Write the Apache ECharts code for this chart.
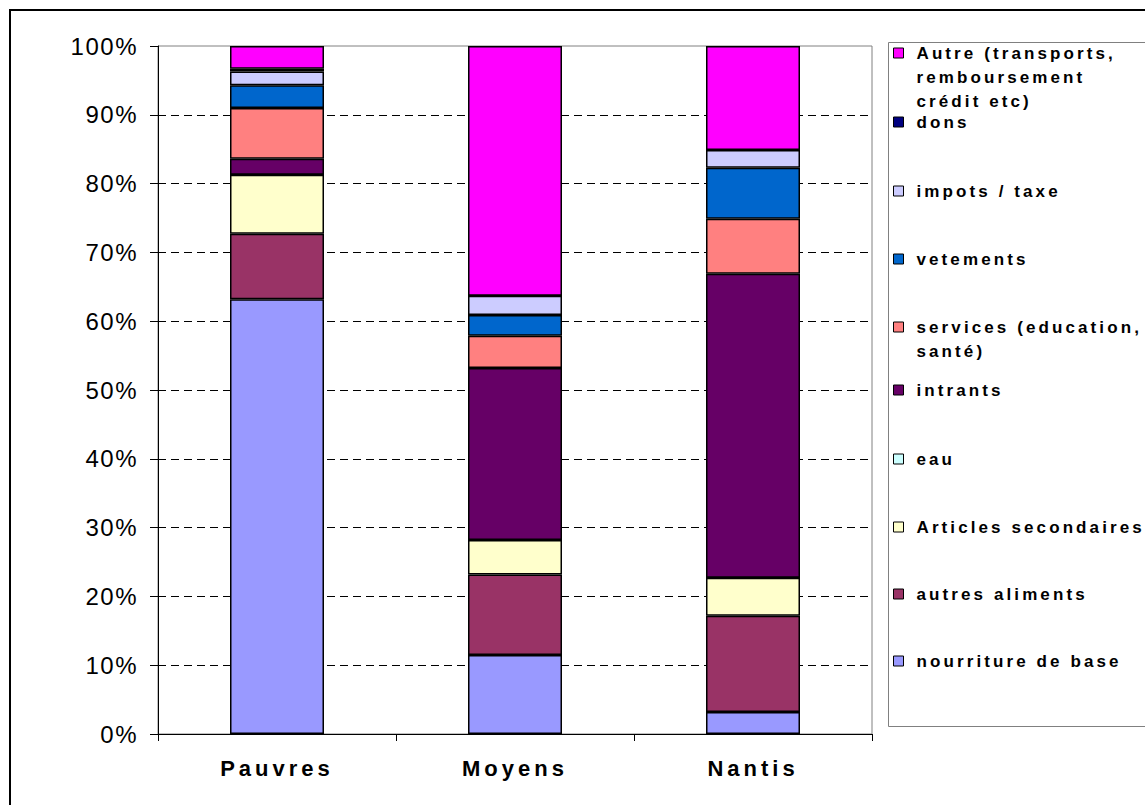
<!DOCTYPE html>
<html>
<head>
<meta charset="utf-8">
<script src="https://cdn.jsdelivr.net/npm/echarts@6/dist/echarts.min.js"></script>
<style>
  html, body { margin: 0; padding: 0; background: #fff; }
  #chart { width: 1145px; height: 805px; }
  /* wide tracking on the legend, category and value texts */
  #chart text[style*="17px"] { letter-spacing: 3.1px; }
  #chart text[style*="22px"] { letter-spacing: 4px; }
  #chart text[style*="24px"] { letter-spacing: 1.5px; }
</style>
</head>
<body>
<div id="chart"></div>
<script>
// Household groups
const categories = ['Pauvres', 'Moyens', 'Nantis'];

// Share of spending (%) per group, bottom segment first
const nourritureDeBase    = [63.2, 11.5, 3.2];
const autresAliments      = [9.5, 11.7, 14.0];
const articlesSecondaires = [8.6, 5.0, 5.5];
const eau                 = [0, 0, 0];
const intrants            = [2.3, 25.0, 44.2];
const services            = [7.4, 4.7, 8.0];
const vetements           = [3.3, 3.0, 7.4];
const impots              = [2.0, 2.8, 2.6];
const dons                = [0.4, 0, 0];
const autre               = [3.3, 36.3, 15.1];

// Series names, as shown in the legend (line breaks for wrapped entries)
const seriesNames = [
  'nourriture de base',
  'autres aliments',
  'Articles secondaires',
  'eau',
  'intrants',
  'services (education,\nsanté)',
  'vetements',
  'impots / taxe',
  'dons',
  'Autre (transports,\nremboursement\ncrédit etc)'
];
const seriesValues = [
  nourritureDeBase, autresAliments, articlesSecondaires, eau, intrants,
  services, vetements, impots, dons, autre
];
const seriesColors = [
  '#9999FF', '#993366', '#FFFFCC', '#CCFFFF', '#660066',
  '#FF8080', '#0066CC', '#CCCCFF', '#000080', '#FF00FF'
];
// Vertical centre of each legend entry's first line
const legendRowY = [661, 594, 527, 459, 390, 327, 259, 191, 122, 53];

const FONT = 'Arial, "Liberation Sans", sans-serif';
const LINE_H = 24;

const chart = echarts.init(document.getElementById('chart'), null, { renderer: 'svg' });

const series = seriesNames.map((name, i) => ({
  name: name,
  type: 'bar',
  stack: 'total',
  barWidth: 94,
  data: seriesValues[i],
  itemStyle: { color: seriesColors[i], borderColor: '#000', borderWidth: 1.5 },
  emphasis: { disabled: true }
}));

// One legend block per entry so each can sit on its own row.
// Wrapped entries get leading blank lines so the first line stays level with the swatch.
const legends = seriesNames.map((name, i) => {
  const lines = name.split('\n').length;
  const lead = '\n'.repeat(lines - 1);
  const boxH = (2 * lines - 1) * LINE_H;
  return {
    data: [name],
    orient: 'vertical',
    left: 893,
    top: legendRowY[i] - boxH / 2,
    padding: 0,
    itemWidth: 10,
    itemHeight: 10,
    icon: 'rect',
    selectedMode: false,
    itemStyle: { borderWidth: 1 },
    formatter: (n) => lead + n,
    textStyle: {
      fontFamily: FONT,
      fontWeight: 'bold',
      fontSize: 17,
      color: '#000',
      lineHeight: LINE_H,
      padding: [0, 0, 0, 8]
    }
  };
});

chart.setOption({
  animation: false,
  backgroundColor: '#fff',
  grid: {
    left: 158, right: 273, top: 46, bottom: 71,
    show: true, borderColor: '#808080', borderWidth: 1, backgroundColor: 'transparent'
  },
  legend: legends,
  graphic: [
    {
      type: 'rect', silent: true, z: 0,
      shape: { x: 10, y: 10, width: 1200, height: 900 },
      style: { fill: 'none', stroke: '#000', lineWidth: 2 }
    },
    {
      type: 'rect', silent: true, z: 0,
      shape: { x: 888.5, y: 42.5, width: 300, height: 684 },
      style: { fill: 'none', stroke: '#808080', lineWidth: 1 }
    }
  ],
  xAxis: {
    type: 'category',
    data: categories,
    axisLine: { show: true, lineStyle: { color: '#000', width: 1 } },
    axisTick: { show: true, length: 7, lineStyle: { color: '#000' } },
    axisLabel: {
      fontFamily: FONT, fontWeight: 'bold', fontSize: 22, color: '#000', margin: 23
    },
    splitLine: { show: false }
  },
  yAxis: {
    type: 'value',
    min: 0, max: 100, interval: 10,
    axisLine: { show: true, lineStyle: { color: '#000', width: 1 } },
    axisTick: { show: true, length: 8, lineStyle: { color: '#000' } },
    axisLabel: {
      formatter: '{value}%', fontFamily: FONT, fontSize: 24, color: '#000', margin: 20
    },
    splitLine: {
      show: true, showMinLine: false, showMaxLine: false,
      lineStyle: { color: '#000', width: 1, type: [8, 5] }
    }
  },
  series: series
});
</script>
</body>
</html>
